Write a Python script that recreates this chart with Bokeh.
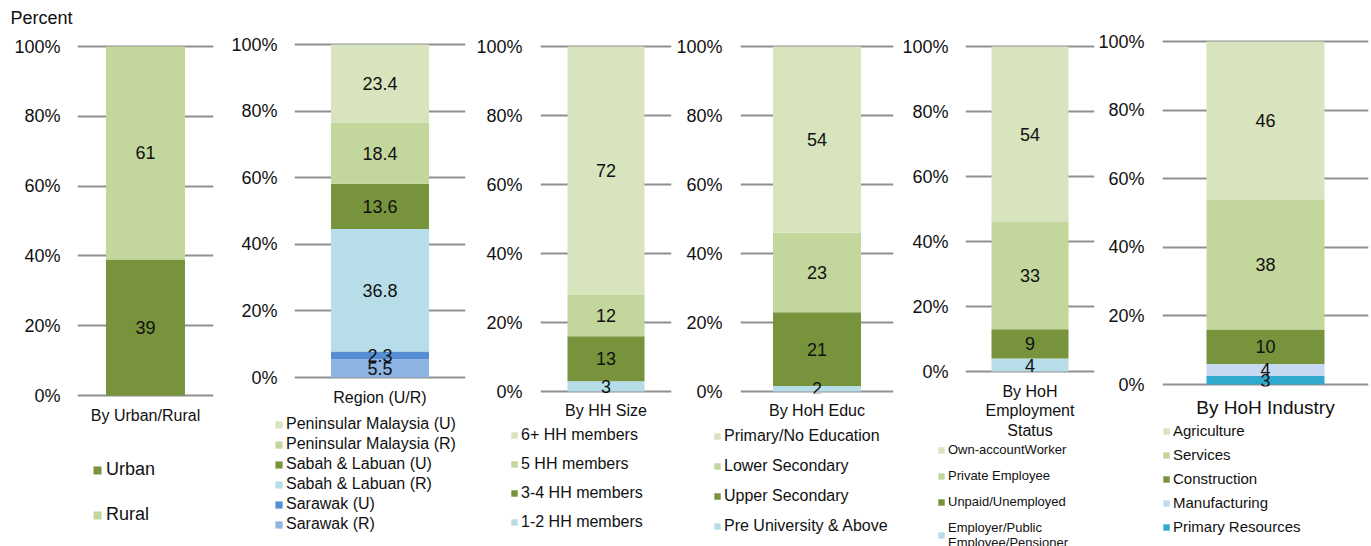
import numpy as np
from bokeh.plotting import figure
from bokeh.models import (ColumnDataSource, FactorRange, Range1d, FixedTicker,
                          PrintfTickFormatter, Legend, LegendItem)
from bokeh.core.properties import value
from bokeh.embed import file_html
from bokeh.resources import INLINE

FONT = "Liberation Sans"

# ---------------- data ----------------
urban_rural_cat = "By Urban/Rural"
urban_rural_series = ["Urban", "Rural"]
urban_rural_values = [39, 61]

region_cat = "Region (U/R)"
region_series = ["Sarawak (R)", "Sarawak (U)", "Sabah & Labuan (R)",
                 "Sabah & Labuan (U)", "Peninsular Malaysia (R)", "Peninsular Malaysia (U)"]
region_values = [5.5, 2.3, 36.8, 13.6, 18.4, 23.4]

hhsize_cat = "By HH Size"
hhsize_series = ["1-2 HH members", "3-4 HH members", "5 HH members", "6+ HH members"]
hhsize_values = [3, 13, 12, 72]

educ_cat = "By HoH Educ"
educ_series = ["Pre University & Above", "Upper Secondary", "Lower Secondary", "Primary/No Education"]
educ_values = [1.6, 21.4, 23, 54]

emp_cat = "By HoH\nEmployment\nStatus"
emp_series = ["Employer/Public\nEmployee/Pensioner", "Unpaid/Unemployed",
              "Private Employee", "Own-accountWorker"]
emp_values = [4, 9, 33, 54]

ind_cat = "By HoH Industry"
ind_series = ["Primary Resources", "Manufacturing", "Construction", "Services", "Agriculture"]
ind_values = [2.5, 3.5, 10, 38, 46]

y_ticks = [0, 20, 40, 60, 80, 100]

# ---------------- style ----------------
G1 = "#D7E4BD"   # lightest green
G2 = "#C3D69B"   # light green
G3 = "#77933C"   # olive
C1 = "#B7DEE8"   # light cyan
TXT = "#111111"
W, H = 1371, 546


def fmt(v, dec):
    if dec == 0:
        return str(int(np.floor(v + 0.5)))
    return f"{v:.{dec}f}"


def transparent(p):
    p.outline_line_color = None
    p.background_fill_color = None
    p.border_fill_color = None


def chart(cat, series, vals, colors, dec, g):
    pad = 2
    pad_top = g.get("pt", 2)
    ft = g["y100"] - pad_top
    fb = g["y0"] + pad
    s = (g["y0"] - g["y100"]) / 100.0
    p = figure(width=W, height=H, x_range=FactorRange(factors=[cat]),
               y_range=Range1d(-pad / s, 100 + pad_top / s),
               output_backend="svg", toolbar_location=None,
               min_border_left=g["gx0"], min_border_right=W - g["gx1"],
               min_border_top=ft, min_border_bottom=H - fb)
    transparent(p)
    src = ColumnDataSource({"cat": [cat], **{k: [v] for k, v in zip(series, vals)}})
    p.vbar_stack(series, x="cat", width=g["bw"] / (g["gx1"] - g["gx0"]),
                 color=colors, source=src, line_color=None)

    bottoms = np.cumsum([0] + list(vals[:-1]))
    centers = bottoms + np.array(vals) / 2.0
    lsrc = ColumnDataSource({"x": [cat] * len(vals), "y": list(centers),
                             "t": [fmt(v, dec) for v in vals]})
    p.text("x", "y", text="t", source=lsrc, text_font=value(FONT), text_font_size="18px",
           text_align="center", text_baseline="middle", text_color=TXT)

    p.xgrid.visible = False
    p.ygrid.grid_line_color = "#8f8f8f"
    p.ygrid.grid_line_width = 2
    p.yaxis.ticker = FixedTicker(ticks=y_ticks)
    p.yaxis.formatter = PrintfTickFormatter(format="%d%%")
    for ax in (p.xaxis, p.yaxis):
        ax.axis_line_color = None
        ax.major_tick_line_color = None
        ax.minor_tick_line_color = None
        ax.major_tick_out = 0
        ax.major_tick_in = 0
        ax.major_label_text_font = FONT
        ax.major_label_text_color = TXT
    p.yaxis.major_label_text_font_size = "18px"
    p.yaxis.major_label_standoff = g["gx0"] - g["tx"]
    p.xaxis.major_label_text_font_size = g["xf"]
    p.xaxis.major_label_standoff = g["xs"]
    p.xaxis.major_label_text_line_height = 1.15
    return p


def legend_box(series, vals, colors, g):
    # a frame that covers only the legend block; its (hidden) renderers only feed the swatches
    lw = min(250, W - g["lx"])
    p = figure(width=W, height=H, x_range=Range1d(5, 6), y_range=Range1d(500, 501),
               x_axis_type=None, y_axis_type=None, output_backend="svg",
               toolbar_location=None, min_border_left=g["lx"],
               min_border_right=W - g["lx"] - lw, min_border_top=g["c0"] - g["ih"] // 2,
               min_border_bottom=0)
    transparent(p)
    p.grid.visible = False
    src = ColumnDataSource({"x": [0.5], **{k: [v] for k, v in zip(series, vals)}})
    rends = p.vbar_stack(series, x="x", width=0.5, color=colors, source=src, line_color=None)
    for r in rends:
        r.visible = False
    pairs = list(zip(series, rends))
    if g["rev"]:
        pairs = pairs[::-1]
    items = [LegendItem(label=k, renderers=[r]) for k, r in pairs]
    gs = g["gs"]
    leg = Legend(items=items, location="top_left", orientation="vertical",
                 border_line_color=None, background_fill_alpha=0, padding=0, margin=0,
                 spacing=g["pitch"] - g["ih"], label_height=gs, glyph_width=gs, glyph_height=gs,
                 label_standoff=g["lso"], label_text_font=FONT, label_text_font_size=g["lf"],
                 label_text_color=TXT, label_text_line_height=1.15,
                 inactive_fill_alpha=0)
    p.add_layout(leg)
    return p


panels = [
    (urban_rural_cat, urban_rural_series, urban_rural_values, [G3, G2], 0,
     dict(gx0=77, gx1=213, tx=60, y100=46, y0=395, pt=15, bw=79, xs=9, xf="16px",
          lx=92, c0=469, ih=20, gs=10, pitch=44, lso=4, lf="18px", rev=False)),
    (region_cat, region_series, region_values, ["#8EB4E3", "#558ED5", C1, G3, G2, G1], 1,
     dict(gx0=294, gx1=465, tx=277, y100=44, y0=377, bw=98, xs=9, xf="16px",
          lx=274, c0=424, ih=18, gs=9, pitch=20, lso=3, lf="16px", rev=True)),
    (hhsize_cat, hhsize_series, hhsize_values, [C1, G3, G2, G1], 0,
     dict(gx0=540, gx1=671, tx=522, y100=46, y0=391, bw=77, xs=8, xf="16px",
          lx=510, c0=435, ih=18, gs=8, pitch=29, lso=3, lf="16px", rev=True)),
    (educ_cat, educ_series, educ_values, [C1, G3, G2, G1], 0,
     dict(gx0=740, gx1=893, tx=722, y100=46, y0=391, bw=88, xs=8, xf="16px",
          lx=713, c0=436, ih=18, gs=8, pitch=30, lso=3, lf="16px", rev=True)),
    (emp_cat, emp_series, emp_values, [C1, G3, G2, G1], 0,
     dict(gx0=965, gx1=1094, tx=948, y100=46, y0=371, bw=77, xs=9, xf="16px",
          lx=937, c0=449, ih=15, gs=8, pitch=26, lso=3, lf="13px", rev=True)),
    (ind_cat, ind_series, ind_values, ["#31A9CF", "#C6D9F1", G3, G2, G1], 0,
     dict(gx0=1162, gx1=1368, tx=1144, y100=41, y0=384, bw=118, xs=10, xf="19px",
          lx=1162, c0=430, ih=17, gs=8, pitch=24, lso=3, lf="15px", rev=True)),
]

charts = [chart(c, s, v, col, d, g) for c, s, v, col, d, g in panels]
legends = [legend_box(s, v, col, g) for c, s, v, col, d, g in panels]

p1 = charts[0]
p1.title.text = "Percent"
p1.title.text_font = FONT
p1.title.text_font_size = "18px"
p1.title.text_font_style = "normal"
p1.title.text_color = TXT
p1.title.offset = -67
p1.title.standoff = 7

PAGE = ("{% block postamble %}<style>html, body { margin: 0; padding: 0; overflow: hidden; } "
        "body > div { display: block !important; position: absolute !important; left: 0; top: 0; }"
        "</style>{% endblock %}")

open("out.html", "w").write(file_html(charts + legends, INLINE, template=PAGE))
